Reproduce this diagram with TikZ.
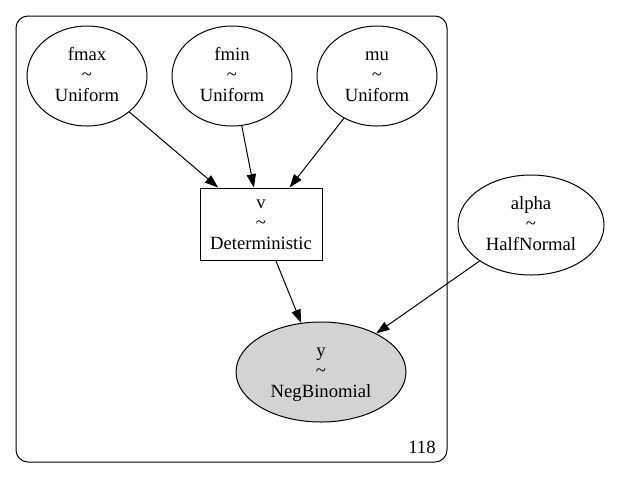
\documentclass[tikz,border=0pt]{standalone}
\usepackage{fontspec}
\setmainfont{Liberation Serif}
\usetikzlibrary{shapes.geometric}
\usetikzlibrary{arrows.meta}

\newcommand{\dist}[2]{\vphantom{Ufy}#1\\\textasciitilde\\\vphantom{Ufy}#2}

\begin{document}
\begin{tikzpicture}[
  x=0.75pt, y=-0.75pt,
  free/.style={ellipse, draw=black, line width=0.75pt, minimum width=90pt, minimum height=75pt, inner sep=0pt, align=center, font=\fontsize{14}{15.4}\selectfont},
  wide/.style={free, minimum width=109.5pt},
  observed/.style={free, fill={rgb,255:red,211;green,211;blue,211}, minimum width=127.5pt},
  detbox/.style={rectangle, draw=black, line width=0.75pt, minimum width=91.5pt, minimum height=54pt, inner sep=0pt, align=center, font=\fontsize{14}{15.4}\selectfont},
  line/.style={draw, line width=0.75pt, -{Triangle[length=10pt, width=7pt]}}]
\useasboundingbox (0,0) rectangle (621,480);
% plate
\draw[line width=0.75pt, rounded corners=9pt] (16,16) rectangle (447,462);
\node[font=\fontsize{14}{15.4}\selectfont] (count) at (422,447) {118};
% random variables
\node[free] (fmax) at (87,76) {\dist{fmax}{Uniform}};
\node[free] (fmin) at (232,76) {\dist{fmin}{Uniform}};
\node[free] (mu) at (377,76) {\dist{mu}{Uniform}};
\node[detbox] (v) at (261,224) {\dist{v}{Deterministic}};
\node[wide] (alpha) at (531,225) {\dist{alpha}{HalfNormal}};
\node[observed] (y) at (321,372) {\dist{y}{NegBinomial}};
\begin{scope} [every path/.style=line]
\path (fmax) -- (v);
\path (fmin) -- (v);
\path (mu) -- (v);
\path (v) -- (y);
\path (alpha) -- (y);
\end{scope}
\end{tikzpicture}
\end{document}
